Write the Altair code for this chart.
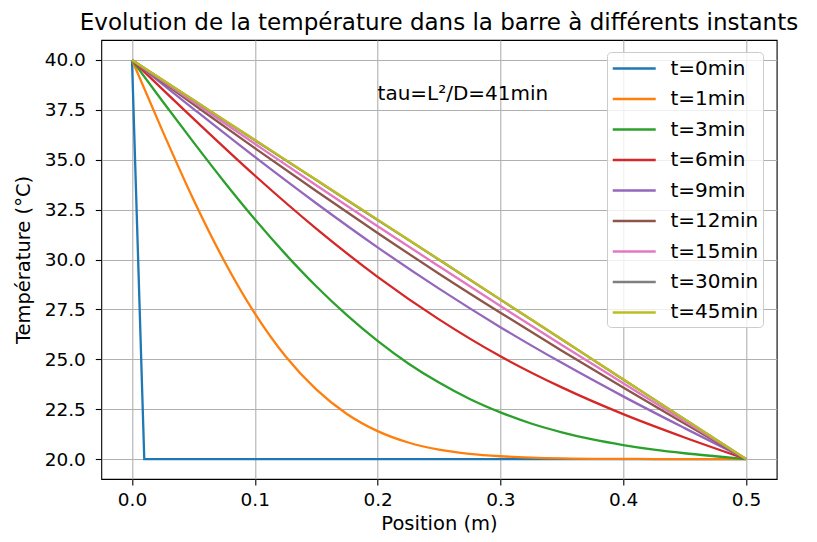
import altair as alt
import pandas as pd

# ---- data ----
series_labels = ["t=0min", "t=1min", "t=3min", "t=6min", "t=9min",
                 "t=12min", "t=15min", "t=30min", "t=45min"]
series_colors = ["#1f77b4", "#ff7f0e", "#2ca02c", "#d62728", "#9467bd",
                 "#8c564b", "#e377c2", "#7f7f7f", "#bcbd22"]

x_t0 = [0.0, 0.01, 0.5]
T_t0 = [40.0, 20.0, 20.0]

x_fine = [0.0, 0.025, 0.05, 0.075, 0.1, 0.125, 0.15, 0.175, 0.2, 0.225, 0.25,
          0.275, 0.3, 0.325, 0.35, 0.375, 0.4, 0.425, 0.45, 0.475, 0.5]
T_t1 = [40.0, 36.42, 33.01, 29.94, 27.30, 25.15, 23.49, 22.26, 21.40, 20.83, 20.47,
        20.26, 20.14, 20.07, 20.03, 20.01, 20.01, 20.00, 20.00, 20.00, 20.00]
T_t3 = [40.0, 37.92, 35.88, 33.90, 32.02, 30.27, 28.66, 27.21, 25.92, 24.79, 23.83,
        23.01, 22.34, 21.78, 21.34, 20.98, 20.70, 20.47, 20.29, 20.14, 20.00]

x_coarse = [0.0, 0.05, 0.1, 0.15, 0.2, 0.25, 0.3, 0.35, 0.4, 0.45, 0.5]
T_t6 = [40.0, 37.06, 34.21, 31.55, 29.13, 27.00, 25.15, 23.59, 22.25, 21.08, 20.0]
T_t9 = [40.0, 37.55, 35.14, 32.82, 30.61, 28.54, 26.61, 24.82, 23.14, 21.55, 20.0]
T_t12 = [40.0, 37.78, 35.58, 33.43, 31.33, 29.29, 27.33, 25.43, 23.58, 21.78, 20.0]
T_t15 = [40.0, 37.89, 35.80, 33.72, 31.67, 29.66, 27.67, 25.72, 23.80, 21.89, 20.0]
T_t30 = [40.0, 37.99, 35.98, 33.98, 31.98, 29.99, 27.99, 25.99, 23.99, 22.00, 20.0]
T_t45 = [40.0, 38.0, 36.0, 34.0, 32.0, 30.0, 28.0, 26.0, 24.0, 22.0, 20.0]

x_ticks = [0.0, 0.1, 0.2, 0.3, 0.4, 0.5]
y_ticks = [20.0, 22.5, 25.0, 27.5, 30.0, 32.5, 35.0, 37.5, 40.0]

annot_x = [0.2]
annot_y = [38.0]
annot_text = ["tau=L²/D=41min"]

title_text = "Evolution de la température dans la barre à différents instants"

# ---- build table ----
series_data = [
    (series_labels[0], x_t0, T_t0),
    (series_labels[1], x_fine, T_t1),
    (series_labels[2], x_fine, T_t3),
    (series_labels[3], x_coarse, T_t6),
    (series_labels[4], x_coarse, T_t9),
    (series_labels[5], x_coarse, T_t12),
    (series_labels[6], x_coarse, T_t15),
    (series_labels[7], x_coarse, T_t30),
    (series_labels[8], x_coarse, T_t45),
]
rows = []
for i, (lab, xs, ts) in enumerate(series_data):
    for xv, tv in zip(xs, ts):
        rows.append({"serie": lab, "idx": i, "x": xv, "T": tv})
df = pd.DataFrame(rows)
df_annot = pd.DataFrame({"x": annot_x, "y": annot_y, "text": annot_text})

FONT = "DejaVu Sans"

x_scale = alt.Scale(domain=[-0.025, 0.525], nice=False, zero=False)
y_scale = alt.Scale(domain=[19, 41], nice=False, zero=False)
color_scale = alt.Scale(domain=series_labels, range=series_colors)

x_enc = alt.X("x:Q", scale=x_scale,
              axis=alt.Axis(title="Position (m)", values=x_ticks, format=".1f",
                            titleY=51, titleBaseline="alphabetic"))
y_enc = alt.Y("T:Q", scale=y_scale,
              axis=alt.Axis(title="Température (°C)", values=y_ticks, format=".1f",
                            titleX=-72, titleY=219.5, titleAngle=-90,
                            titleBaseline="alphabetic", titleAlign="center"))
c_enc = alt.Color("serie:N", scale=color_scale, sort=series_labels,
                  legend=alt.Legend(title=None, orient="none",
                                    legendX=505.7, legendY=12))

base = alt.Chart(df)

line_t0 = base.transform_filter(alt.datum.idx == 0).mark_line(
    strokeWidth=2.3, interpolate="linear"
).encode(x=x_enc, y=y_enc, color=c_enc, order=alt.Order("x:Q"), detail="idx:O")

line_rest = base.transform_filter(alt.datum.idx > 0).mark_line(
    strokeWidth=2.3, interpolate="monotone"
).encode(x=x_enc, y=y_enc, color=c_enc, order=alt.Order("x:Q"), detail="idx:O")

annot = alt.Chart(df_annot).mark_text(
    align="left", baseline="alphabetic", font=FONT, fontSize=20, color="#000"
).encode(
    x=alt.X("x:Q", scale=x_scale),
    y=alt.Y("y:Q", scale=y_scale),
    text="text:N",
)

chart = alt.layer(line_t0, line_rest, annot).properties(
    width=675.4,
    height=439,
    title=alt.Title(title_text, font=FONT, fontSize=23, fontWeight="normal",
                    anchor="middle", color="#000", offset=5),
    padding={"left": 93.3, "top": 32, "right": 32, "bottom": 55},
    autosize=alt.AutoSizeParams(type="none"),
).configure_view(
    stroke="#000", strokeWidth=1.1
).configure_axis(
    domain=False,
    grid=True, gridColor="#b0b0b0", gridWidth=1.1,
    ticks=True, tickColor="#000", tickWidth=1.1, tickSize=6,
    labelFont=FONT, labelFontSize=18.5, labelColor="#000", labelPadding=6,
    titleFont=FONT, titleFontSize=19.5, titleFontWeight="normal", titleColor="#000",
).configure_axisY(
    labelPadding=10,
).configure_legend(
    symbolType="M-1,0H3", symbolSize=462, symbolStrokeWidth=2.5,
    labelFont=FONT, labelFontSize=20, labelColor="#000", labelOffset=35,
    rowPadding=8.5, padding=4.5,
    fillColor="rgba(255,255,255,0.8)", strokeColor="#cccccc", cornerRadius=4,
)

chart.save("out.html", embed_options={"renderer": "svg", "actions": False})
